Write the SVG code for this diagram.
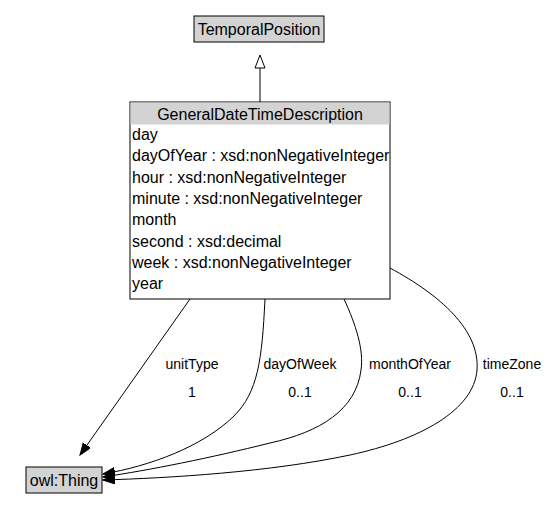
<svg xmlns="http://www.w3.org/2000/svg" width="553" height="531" viewBox="0 0 553 531">
<style>
text{font-family:"Liberation Sans",Arial,sans-serif;font-size:14px;fill:#000}
.n{font-size:16px}
.c{text-anchor:middle}
.box{fill:#fff;stroke:#000;stroke-width:1}
.hdr{fill:#d3d3d3;stroke:none}
.gbox{fill:#d3d3d3;stroke:#000;stroke-width:1}
.e{fill:none;stroke:#000;stroke-width:1}
</style>
<defs>
<marker id="fa" markerWidth="13" markerHeight="10" refX="12" refY="4.5" orient="auto" markerUnits="userSpaceOnUse">
<path d="M0,0 L12,4.5 L0,9 z" fill="#000" stroke="#000"/>
</marker>
</defs>
<rect width="553" height="531" fill="#fff"/>
<g id="edges">
<path class="e" d="M260,102 L260,68"/>
<path d="M260,55 L255,68 L265,68 z" fill="#fff" stroke="#000"/>
<path class="e" d="M190,299 L80,455" marker-end="url(#fa)"/>
<path class="e" d="M265,299 C262,360 258,392 234,416 C202,447 150,466 103,474" marker-end="url(#fa)"/>
<path class="e" d="M344,299 C356,325 364,350 361,370 C356,410 320,432 270,443 C210,458 150,470 103,477" marker-end="url(#fa)"/>
<path class="e" d="M390,268 C440,295 480,330 477,370 C474,410 420,440 350,455 C270,472 170,478 103,480" marker-end="url(#fa)"/>
<text class="c" x="192" y="369">unitType</text>
<text class="c" x="192" y="397">1</text>
<text class="c" x="300" y="369">dayOfWeek</text>
<text class="c" x="300" y="397">0..1</text>
<text class="c" x="410" y="369">monthOfYear</text>
<text class="c" x="410" y="397">0..1</text>
<text class="c" x="512" y="369">timeZone</text>
<text class="c" x="512" y="397">0..1</text>
</g>
<g id="TemporalPosition">
<rect class="gbox" x="194" y="16" width="130" height="26"/>
<text class="n c" x="259" y="35">TemporalPosition</text>
</g>
<g id="GeneralDateTimeDescription">
<rect class="box" x="130" y="102" width="260" height="197"/>
<rect class="hdr" x="130.5" y="102.5" width="259" height="22"/>
<text class="n c" x="260" y="120">GeneralDateTimeDescription</text>
<text class="n" x="132" y="140">day</text>
<text class="n" x="132" y="161">dayOfYear : xsd:nonNegativeInteger</text>
<text class="n" x="132" y="183">hour : xsd:nonNegativeInteger</text>
<text class="n" x="132" y="204">minute : xsd:nonNegativeInteger</text>
<text class="n" x="132" y="225">month</text>
<text class="n" x="132" y="247">second : xsd:decimal</text>
<text class="n" x="132" y="268">week : xsd:nonNegativeInteger</text>
<text class="n" x="132" y="289">year</text>
</g>
<g id="owlThing">
<rect class="gbox" x="26" y="467" width="76" height="26"/>
<text class="n c" x="64" y="486">owl:Thing</text>
</g>
</svg>
